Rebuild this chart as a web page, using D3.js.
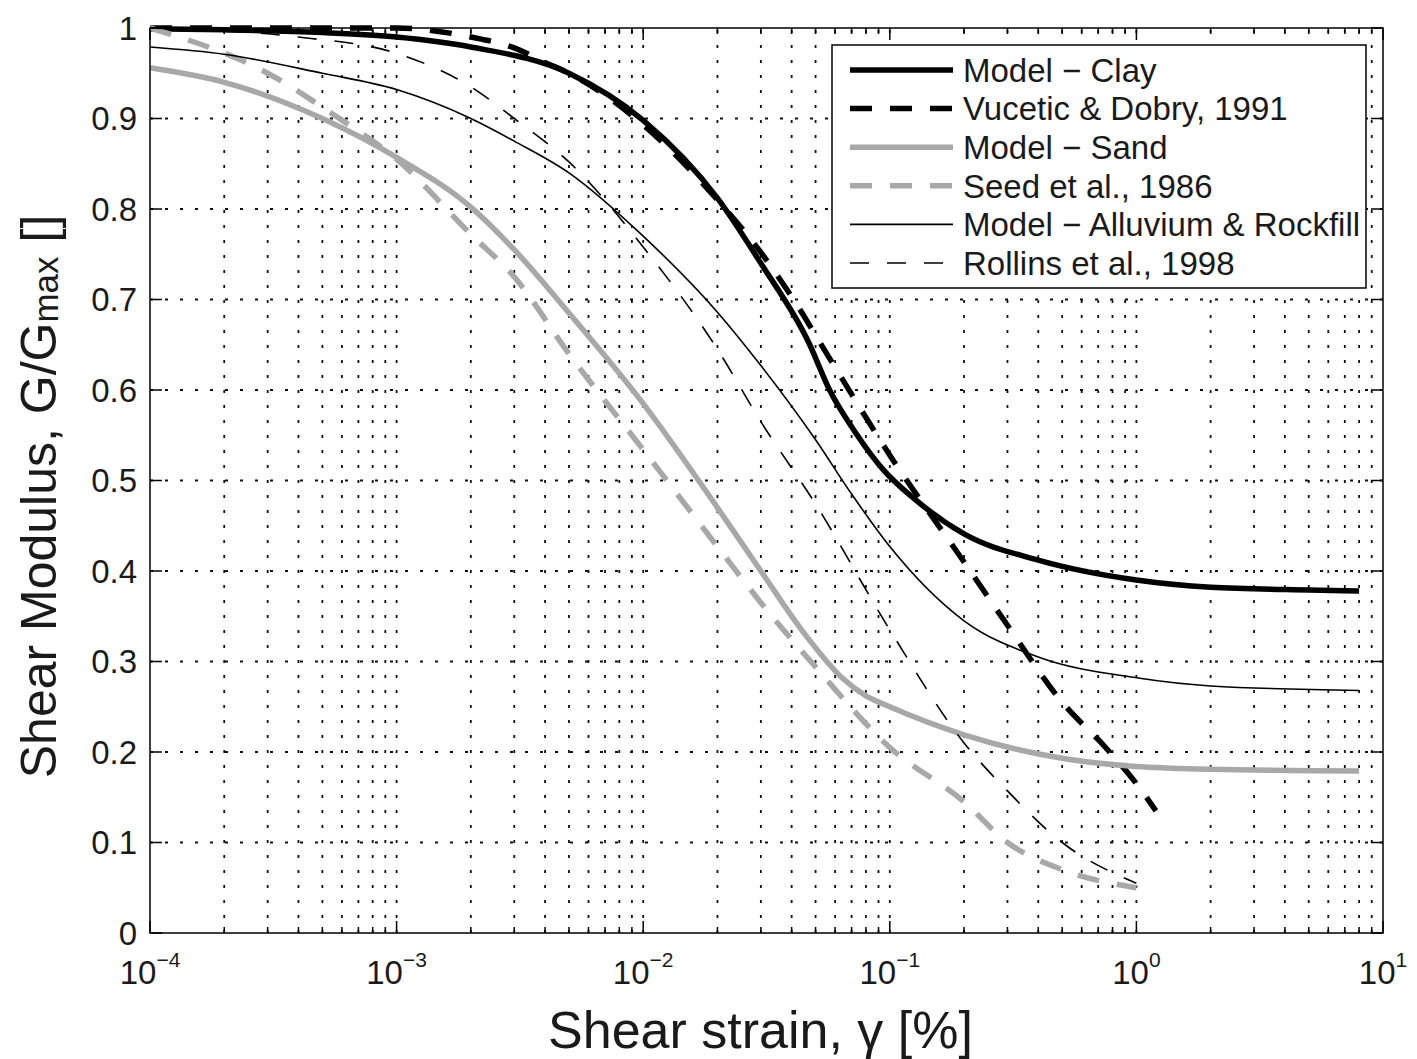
<!DOCTYPE html>
<html><head><meta charset="utf-8">
<script src="https://cdn.jsdelivr.net/npm/d3@7"></script>
<style>
body{margin:0;background:#fff}
svg{display:block}
text{font-family:"Liberation Sans",Arial,Helvetica,sans-serif;fill:#1a1a1a}
</style>
</head><body>
<svg id="chart" width="1417" height="1059"></svg>
<script>
// ---- data (strain in %, G/Gmax) ----
const modelClay = [[1e-4,0.999],[2e-4,0.998],[5e-4,0.995],[1e-3,0.99],[2e-3,0.979],[5e-3,0.95],[1e-2,0.898],[2e-2,0.812],[3e-2,0.74],[4.7e-2,0.652],[5.7e-2,0.60],[7.3e-2,0.552],[9.4e-2,0.512],[0.128,0.478],[0.2,0.441],[0.4,0.412],[1,0.39],[2,0.382],[5,0.379],[8,0.378]];
const vuceticDobry = [[1e-4,1.0],[1e-3,1.0],[2e-3,0.99],[3e-3,0.978],[4e-3,0.962],[5e-3,0.95],[1e-2,0.893],[2e-2,0.81],[3e-2,0.752],[4e-2,0.703],[6e-2,0.625],[0.1,0.528],[0.2,0.41],[0.3,0.34],[0.5,0.255],[0.75,0.205],[1.0,0.165],[1.2,0.135]];
const modelSand = [[1e-4,0.956],[2e-4,0.94],[5e-4,0.90],[1e-3,0.857],[2e-3,0.802],[3e-3,0.755],[5e-3,0.685],[1e-2,0.585],[2e-2,0.47],[3e-2,0.40],[4.5e-2,0.331],[6.4e-2,0.282],[8e-2,0.262],[0.1,0.25],[0.2,0.219],[0.5,0.193],[1,0.184],[2,0.181],[8,0.179]];
const seed1986 = [[1e-4,1.0],[3e-4,0.95],[5.5e-4,0.905],[1e-3,0.855],[2e-3,0.772],[3e-3,0.725],[5e-3,0.64],[1e-2,0.534],[2e-2,0.427],[3e-2,0.365],[5e-2,0.294],[0.1,0.205],[0.2,0.145],[0.3,0.1],[0.5,0.07],[1,0.05]];
const modelAlluvium = [[1e-4,0.979],[2e-4,0.971],[5e-4,0.95],[1e-3,0.932],[2e-3,0.90],[3e-3,0.875],[5e-3,0.84],[1e-2,0.77],[2e-2,0.686],[3e-2,0.627],[5e-2,0.545],[7e-2,0.485],[0.1,0.427],[0.2,0.345],[0.4,0.305],[1,0.282],[2,0.273],[8,0.268]];
const rollins1998 = [[1e-4,1.0],[4e-4,0.99],[1e-3,0.972],[2e-3,0.935],[3e-3,0.90],[5e-3,0.852],[1e-2,0.758],[2e-2,0.645],[3e-2,0.565],[5e-2,0.474],[0.1,0.335],[0.2,0.21],[0.3,0.157],[0.5,0.10],[1,0.055]];

const seriesNames = ["Model \u2212 Clay","Vucetic & Dobry, 1991","Model \u2212 Sand","Seed et al., 1986","Model \u2212 Alluvium & Rockfill","Rollins et al., 1998"];
const seriesData = [modelClay, vuceticDobry, modelSand, seed1986, modelAlluvium, rollins1998];
const xMajorTicks = [1e-4,1e-3,1e-2,1e-1,1,10];
const xTickExponents = ["\u22124","\u22123","\u22122","\u22121","0","1"];
const yTicks = [0,0.1,0.2,0.3,0.4,0.5,0.6,0.7,0.8,0.9,1];
const yTickLabels = ["0","0.1","0.2","0.3","0.4","0.5","0.6","0.7","0.8","0.9","1"];

// ---- styles ----
const GRAY = "#a8a8a8";
const styles = [
  {color:"#000", width:5.5, dash:null},
  {color:"#000", width:5.5, dash:"22,18"},
  {color:GRAY, width:5.5, dash:null},
  {color:GRAY, width:5.5, dash:"22,18"},
  {color:"#000", width:1.6, dash:null},
  {color:"#000", width:1.6, dash:"19,18"}
];

const L = 150, R = 1383, T = 28, B = 933;
const svg = d3.select("#chart");
const x = d3.scaleLog().domain([1e-4, 10]).range([L, R]);
const y = d3.scaleLinear().domain([0, 1]).range([B, T]);

// tick values (major + minor)
const xAll = [];
for (let e = -4; e < 1; e++) for (let m = 1; m <= 9; m++) xAll.push(m * Math.pow(10, e));
xAll.push(10);
const isMajor = v => xMajorTicks.some(t => Math.abs(t - v) / t < 1e-9);

// grid
const grid = svg.append("g").attr("stroke", "#111").attr("stroke-width", 1.8).attr("stroke-dasharray", "3,12").attr("fill", "none");
xAll.filter(v => v > 1e-4 && v < 10).forEach(v => {
  grid.append("line").attr("x1", x(v)).attr("x2", x(v)).attr("y1", B).attr("y2", T);
});
yTicks.filter(v => v > 0 && v < 1).forEach(v => {
  grid.append("line").attr("x1", L).attr("x2", R).attr("y1", y(v)).attr("y2", y(v));
});

// clip
svg.append("clipPath").attr("id", "clip").append("rect").attr("x", L).attr("y", T - 3).attr("width", R - L).attr("height", B - T + 3);

const line = d3.line().x(d => x(d[0])).y(d => y(d[1])).curve(d3.curveMonotoneX);
const lines = svg.append("g").attr("clip-path", "url(#clip)");
seriesData.forEach((data, i) => {
  const s = styles[i];
  lines.append("path").datum(data).attr("d", line)
    .attr("fill", "none").attr("stroke", s.color).attr("stroke-width", s.width)
    .attr("stroke-dasharray", s.dash).attr("stroke-linejoin", "round");
});

// axes box & ticks
const ax = svg.append("g").attr("stroke", "#000").attr("stroke-width", 1.5);
ax.append("rect").attr("x", L).attr("y", T).attr("width", R - L).attr("height", B - T).attr("fill", "none");
const majorLen = 12, minorLen = 6;
xAll.forEach(v => {
  const len = isMajor(v) ? majorLen : minorLen;
  ax.append("line").attr("x1", x(v)).attr("x2", x(v)).attr("y1", B).attr("y2", B - len);
  ax.append("line").attr("x1", x(v)).attr("x2", x(v)).attr("y1", T).attr("y2", T + len);
});
yTicks.forEach(v => {
  ax.append("line").attr("x1", L).attr("x2", L + majorLen).attr("y1", y(v)).attr("y2", y(v));
  ax.append("line").attr("x1", R).attr("x2", R - majorLen).attr("y1", y(v)).attr("y2", y(v));
});

// tick labels
const tickFont = 33;
yTicks.forEach((v, i) => {
  svg.append("text").attr("x", L - 13).attr("y", y(v)).attr("dy", "0.36em")
    .attr("text-anchor", "end").attr("font-size", tickFont).text(yTickLabels[i]);
});
xMajorTicks.forEach((v, i) => {
  const t = svg.append("text").attr("x", x(v)).attr("y", 984).attr("text-anchor", "middle").attr("font-size", tickFont);
  t.append("tspan").text("10");
  t.append("tspan").attr("font-size", 21).attr("dy", -17).text(xTickExponents[i]);
});

// axis titles
svg.append("text").attr("x", (L + R) / 2 - 6).attr("y", 1048).attr("text-anchor", "middle")
  .attr("font-size", 52).text("Shear strain, \u03b3 [%]");
const yl = svg.append("text").attr("transform", "translate(56," + ((T + B) / 2 + 16) + ") rotate(-90)")
  .attr("text-anchor", "middle").attr("font-size", 50);
yl.append("tspan").text("Shear Modulus,  G/G");
yl.append("tspan").attr("font-size", 35).attr("dy", 2).text("max");
yl.append("tspan").attr("font-size", 50).attr("dy", -2).text(" []");

// legend
const lg = svg.append("g");
lg.append("rect").attr("x", 832).attr("y", 45).attr("width", 534).attr("height", 243)
  .attr("fill", "#fff").attr("stroke", "#000").attr("stroke-width", 1.5);
seriesNames.forEach((name, i) => {
  const yy = 70 + i * 38.6;
  const s = styles[i];
  lg.append("line").attr("x1", 850).attr("x2", 953).attr("y1", yy).attr("y2", yy)
    .attr("stroke", s.color).attr("stroke-width", s.width).attr("stroke-dasharray", s.dash);
  lg.append("text").attr("x", 963).attr("y", yy).attr("dy", "0.36em").attr("font-size", 33).text(name);
});
</script>
</body></html>
